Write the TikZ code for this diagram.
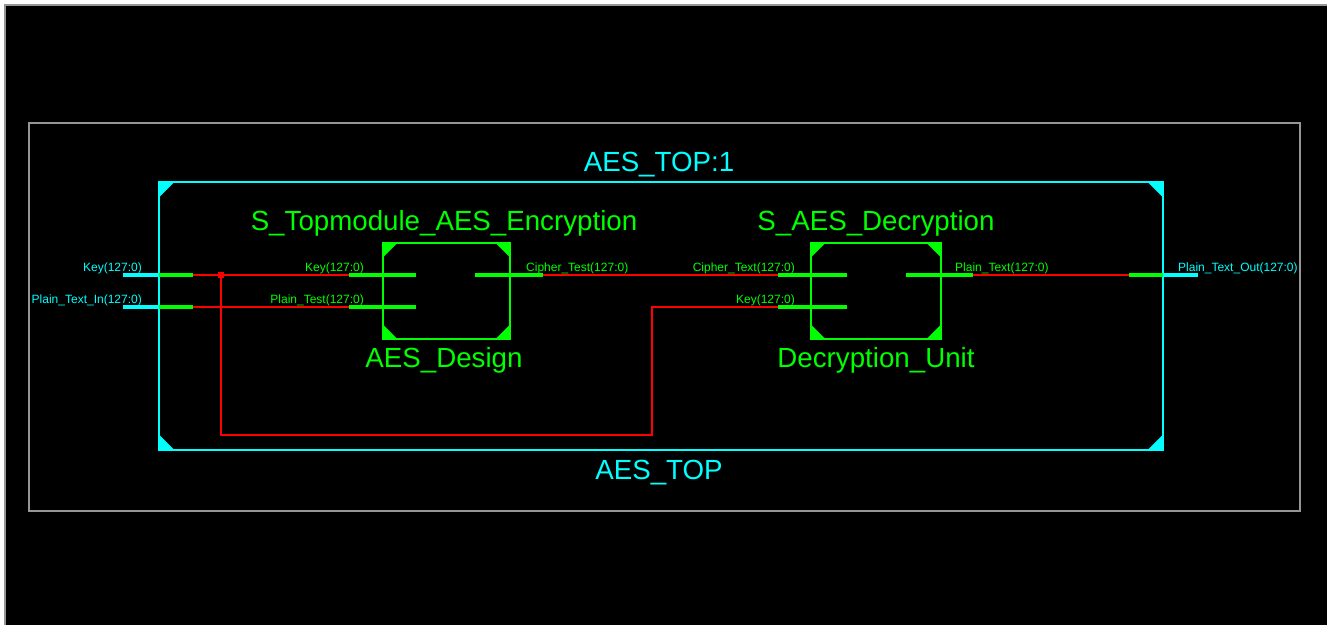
\documentclass[tikz,border=0pt]{standalone}
\usepackage{fontspec}
\setmainfont{Liberation Sans}
\definecolor{cyn}{RGB}{0,255,255}
\definecolor{grn}{RGB}{0,255,0}
\definecolor{wred}{RGB}{255,0,0}
\definecolor{frame}{RGB}{150,150,150}
\tikzset{
  bigtxt/.style={inner sep=0pt, font=\fontsize{27.7}{30}\selectfont},
  smalltxt/.style={inner sep=0pt, font=\fontsize{12}{14}\selectfont},
  wire/.style={draw=wred, line width=2.6pt},
  pinline/.style={draw=grn, line width=4.5pt},
  portline/.style={draw=cyn, line width=4.5pt},
  blockbox/.style={draw=grn, line width=1.6pt, inner sep=0pt, minimum width=127pt, minimum height=96pt},
  topbox/.style={draw=cyn, line width=1.6pt, inner sep=0pt, minimum width=1004pt, minimum height=268pt},
  junction/.style={fill=wred, inner sep=0pt, minimum size=6pt}
}
\begin{document}
\begin{tikzpicture}[x=1pt,y=-1pt]
\useasboundingbox (0,0) rectangle (1327,625);
\fill[white] (0,0) rectangle (1327,625);
\fill[black] (5,5) rectangle (1327,625);
\draw[frame, line width=2pt] (5,625) -- (5,5) -- (1327,5);
% outer grey frame
\draw[frame, line width=1.2pt] (29,123) rectangle (1300,511);
% top-level box
\node[topbox] (top) at (661,316) {};
\foreach \a/\b/\c in {north west/1/1, north east/-1/1, south west/1/-1, south east/-1/-1}{
  \fill[cyn] (top.\a) -- ++(17*\b,0) -- ++(-17*\b,17*\c) -- cycle;
}
\node[bigtxt, text=cyn, anchor=base] (toptitle) at (659,171) {AES\_TOP:1};
\node[bigtxt, text=cyn, anchor=base] (topname) at (659,479) {AES\_TOP};
% blocks
\node[blockbox] (enc) at (446.5,291) {};
\node[blockbox, minimum width=130pt] (dec) at (876,291) {};
\foreach \n in {enc,dec}{
  \foreach \a/\b/\c in {north west/1/1, north east/-1/1, south west/1/-1, south east/-1/-1}{
    \fill[grn] (\n.\a) -- ++(16*\b,0) -- ++(-16*\b,16*\c) -- cycle;
  }
}
\node[bigtxt, text=grn, anchor=base] (enctitle) at (444,230) {S\_Topmodule\_AES\_Encryption};
\node[bigtxt, text=grn, anchor=base] (encname) at (444,367) {AES\_Design};
\node[bigtxt, text=grn, anchor=base] (dectitle) at (876,230) {S\_AES\_Decryption};
\node[bigtxt, text=grn, anchor=base] (decname) at (876,367) {Decryption\_Unit};
% pin coordinates
\coordinate (encKa) at (349,275); \coordinate (encKb) at (416,275);
\coordinate (encPa) at (349,307); \coordinate (encPb) at (416,307);
\coordinate (encCa) at (475,275); \coordinate (encCb) at (543,275);
\coordinate (decCa) at (778,275); \coordinate (decCb) at (847,275);
\coordinate (decKa) at (778,307); \coordinate (decKb) at (847,307);
\coordinate (decPa) at (906,275); \coordinate (decPb) at (973,275);
\coordinate (inKa) at (123,275); \coordinate (inKm) at (159,275); \coordinate (inKb) at (193,275);
\coordinate (inPa) at (123,307); \coordinate (inPm) at (159,307); \coordinate (inPb) at (193,307);
\coordinate (outa) at (1129,275); \coordinate (outm) at (1163,275); \coordinate (outb) at (1198,275);
% wires
\draw[wire] (inKb) -- (encKa);
\draw[wire] (inPb) -- (encPa);
\draw[wire] (encCb) -- (decCa);
\draw[wire] (decPb) -- (outa);
\coordinate (jn) at (221,275);
\coordinate (c1) at (221,435);
\coordinate (c2) at (652,435);
\coordinate (c3) at (652,307);
\draw[wire] (jn) -- (c1) -- (c2) -- (c3) -- (decKa);
\node[junction] (jdot) at (jn) {};
% pins
\foreach \a/\b in {encKa/encKb, encPa/encPb, encCa/encCb, decCa/decCb, decKa/decKb, decPa/decPb, inKm/inKb, inPm/inPb, outa/outm}{
  \draw[pinline] (\a) -- (\b);
}
\foreach \a/\b in {inKa/inKm, inPa/inPm, outm/outb}{
  \draw[portline] (\a) -- (\b);
}
% small labels
\node[smalltxt, text=cyn, anchor=base east] (lk) at (142,271) {Key(127:0)};
\node[smalltxt, text=cyn, anchor=base east] (lp) at (142,303) {Plain\_Text\_In(127:0)};
\node[smalltxt, text=cyn, anchor=base west] (lo) at (1178,271) {Plain\_Text\_Out(127:0)};
\node[smalltxt, text=grn, anchor=base east] (ek) at (364,271) {Key(127:0)};
\node[smalltxt, text=grn, anchor=base east] (ep) at (364,303) {Plain\_Test(127:0)};
\node[smalltxt, text=grn, anchor=base west] (ec) at (526,271) {Cipher\_Test(127:0)};
\node[smalltxt, text=grn, anchor=base east] (dc) at (795,271) {Cipher\_Text(127:0)};
\node[smalltxt, text=grn, anchor=base east] (dk) at (795,303) {Key(127:0)};
\node[smalltxt, text=grn, anchor=base west] (dp) at (955,271) {Plain\_Text(127:0)};
\end{tikzpicture}
\end{document}
